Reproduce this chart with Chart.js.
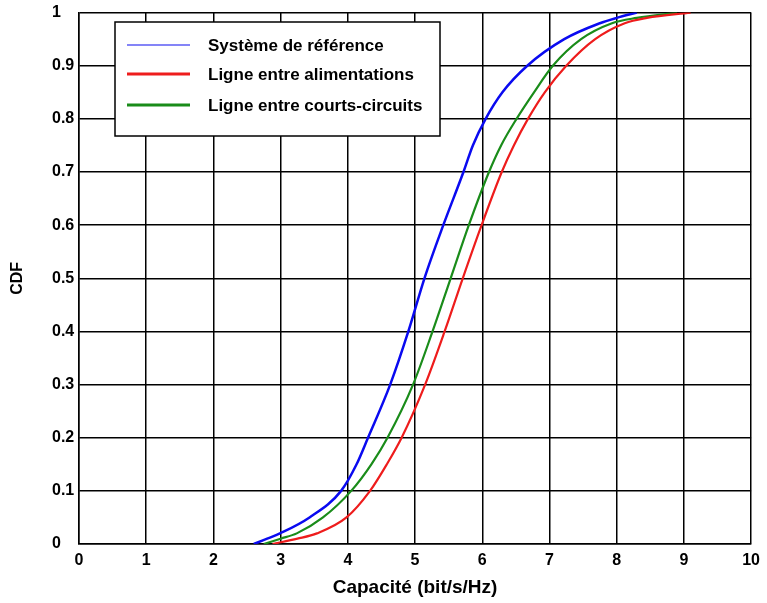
<!DOCTYPE html>
<html>
<head>
<meta charset="utf-8">
<script src="https://cdn.jsdelivr.net/npm/chart.js@4"></script>
<style>
  html, body { margin: 0; padding: 0; background: #fff; }
  #wrap { width: 767px; height: 603px; }
</style>
</head>
<body>
<div id="wrap"><canvas id="cdfChart"></canvas></div>
<script>
// CDF levels shared by the three curves
const cdfLevels = [0, 0.01, 0.02, 0.05, 0.1, 0.15, 0.2, 0.3, 0.4, 0.5, 0.6, 0.7, 0.75, 0.8, 0.85, 0.9, 0.95, 0.98, 0.99, 1];

// capacity (bit/s/Hz) reached at each level
const refCapacity    = [2.6, 2.8, 2.99, 3.43, 3.9, 4.13, 4.3, 4.63, 4.9, 5.14, 5.42, 5.72, 5.86, 6.05, 6.3, 6.67, 7.22, 7.75, 8.0, 8.3];
const supplyCapacity = [2.88, 3.25, 3.54, 3.98, 4.33, 4.58, 4.8, 5.15, 5.44, 5.71, 5.99, 6.29, 6.47, 6.68, 6.93, 7.25, 7.68, 8.12, 8.45, 9.1];
const shortCapacity  = [2.75, 3.0, 3.24, 3.63, 4.05, 4.35, 4.59, 4.97, 5.26, 5.53, 5.8, 6.1, 6.28, 6.51, 6.77, 7.05, 7.47, 7.93, 8.3, 8.9];

const seriesLabels = ['Système de référence', 'Ligne entre alimentations', 'Ligne entre courts-circuits'];
const seriesColors = ['#0a0af0', '#ee1c1c', '#1a8c1a'];

const xTicks = [0, 1, 2, 3, 4, 5, 6, 7, 8, 9, 10];

const toPoints = (xs) => xs.map((x, i) => ({ x: x, y: cdfLevels[i] }));

const FONT = 'Liberation Sans, Arial, sans-serif';

// legend drawn inside the plot, top left
const boxLegend = {
  id: 'boxLegend',
  afterDatasetsDraw(chart) {
    const c = chart.ctx;
    c.save();
    c.fillStyle = '#fff';
    c.fillRect(115, 22, 325, 114);
    c.strokeStyle = '#000';
    c.lineWidth = 1.5;
    c.strokeRect(115, 22, 325, 114);
    const rowY = [45, 74, 105];
    const widths = [1.2, 3, 3];
    chart.data.datasets.forEach((ds, i) => {
      c.strokeStyle = ds.borderColor;
      c.lineWidth = widths[i];
      c.beginPath();
      c.moveTo(127, rowY[i]);
      c.lineTo(190, rowY[i]);
      c.stroke();
      c.fillStyle = '#000';
      c.font = 'bold 17px ' + FONT;
      c.textBaseline = 'middle';
      c.fillText(ds.label, 208, rowY[i] + 1);
    });
    c.restore();
  }
};

const ctx = document.getElementById('cdfChart').getContext('2d');
new Chart(ctx, {
  type: 'scatter',
  data: {
    datasets: [
      { label: seriesLabels[0], data: toPoints(refCapacity), borderColor: seriesColors[0], borderWidth: 2.5 },
      { label: seriesLabels[1], data: toPoints(supplyCapacity), borderColor: seriesColors[1], borderWidth: 2.2 },
      { label: seriesLabels[2], data: toPoints(shortCapacity), borderColor: seriesColors[2], borderWidth: 2.2 },
    ].map(ds => Object.assign(ds, { showLine: true, pointRadius: 0, fill: false, cubicInterpolationMode: 'monotone' })),
  },
  options: {
    responsive: true,
    maintainAspectRatio: false,
    animation: false,
    layout: { padding: { top: 11, right: 12, bottom: 0, left: 52 } },
    plugins: { legend: { display: false }, tooltip: { enabled: false } },
    scales: {
      x: {
        type: 'linear',
        min: 0,
        max: 10,
        afterBuildTicks: (scale) => { scale.ticks = xTicks.map(v => ({ value: v })); },
        afterFit: (scale) => { scale.height = 59; },
        grid: { color: '#000', lineWidth: 1.5, drawTicks: false },
        border: { color: '#000', width: 1.5 },
        ticks: { color: '#000', padding: 7, font: { family: FONT, size: 16, weight: 'bold' } },
        title: { display: true, text: 'Capacité (bit/s/Hz)', color: '#000', padding: { top: -1 }, font: { family: FONT, size: 19, weight: 'bold' } },
      },
      y: {
        min: 0,
        max: 1,
        afterFit: (scale) => { scale.width = 27; },
        grid: { color: '#000', lineWidth: 1.5, drawTicks: false },
        border: { color: '#000', width: 1.5 },
        ticks: {
          stepSize: 0.1,
          color: '#000',
          crossAlign: 'far',
          font: { family: FONT, size: 16, weight: 'bold' },
          callback: (v) => String(Number(v.toFixed(1))),
        },
        // title sits left of the padded area, at x ~18
        title: { display: true, text: 'CDF', color: '#000', padding: { top: -44 }, font: { family: FONT, size: 16, weight: 'bold' } },
      },
    },
  },
  plugins: [boxLegend],
});
</script>
</body>
</html>
